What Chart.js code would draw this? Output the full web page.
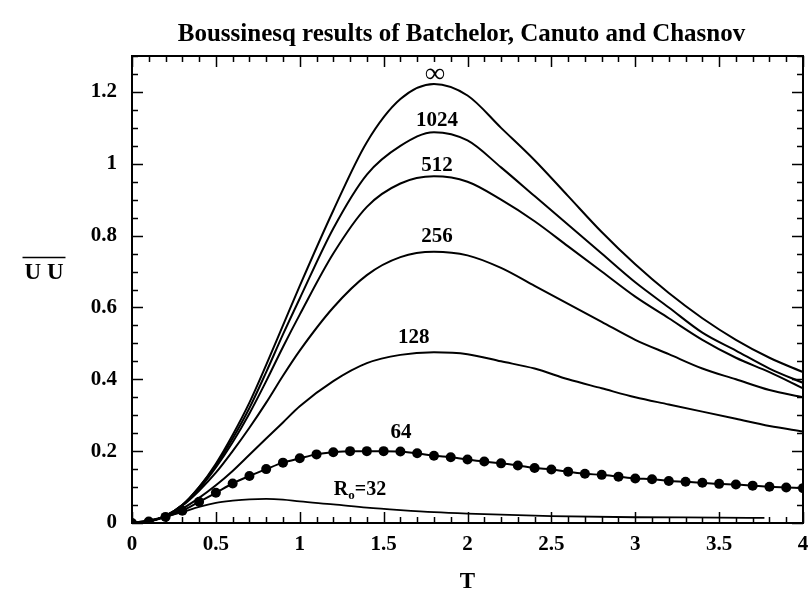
<!DOCTYPE html>
<html><head><meta charset="utf-8">
<script src="https://cdn.jsdelivr.net/npm/chart.js@4.4.0/dist/chart.umd.min.js"></script>
<style>html,body{margin:0;padding:0;background:#fff}</style>
</head><body>
<canvas id="c" width="808" height="599"></canvas>
<script>
const TITLE = 'Boussinesq results of Batchelor, Canuto and Chasnov';
const X_TITLE = 'T';
const Y_TITLE = 'U U';
const X_MAJOR = [0, 0.5, 1, 1.5, 2, 2.5, 3, 3.5, 4];
const Y_MAJOR = [0, 0.2, 0.4, 0.6, 0.8, 1, 1.2];

const T_CURVE = [0, 0.1, 0.2, 0.3, 0.4, 0.5, 0.6, 0.7, 0.8, 0.9, 1.0, 1.2, 1.4, 1.6, 1.8, 2.0, 2.2, 2.4, 2.6, 2.8, 3.0, 3.2, 3.4, 3.6, 3.8, 4.0];
const U_INF  = [0, 0.005, 0.02, 0.05, 0.1, 0.165, 0.245, 0.335, 0.44, 0.55, 0.66, 0.87, 1.06, 1.18, 1.222, 1.19, 1.10, 1.01, 0.91, 0.81, 0.72, 0.64, 0.57, 0.51, 0.46, 0.42];
const U_1024 = [0, 0.005, 0.02, 0.05, 0.1, 0.16, 0.235, 0.32, 0.42, 0.525, 0.625, 0.82, 0.97, 1.05, 1.088, 1.065, 0.99, 0.91, 0.83, 0.75, 0.67, 0.60, 0.53, 0.48, 0.43, 0.39];
const U_512  = [0, 0.005, 0.02, 0.05, 0.095, 0.155, 0.225, 0.305, 0.395, 0.49, 0.58, 0.75, 0.88, 0.945, 0.965, 0.95, 0.90, 0.84, 0.77, 0.70, 0.63, 0.57, 0.51, 0.46, 0.42, 0.375];
const U_256  = [0, 0.005, 0.02, 0.048, 0.09, 0.14, 0.2, 0.265, 0.335, 0.41, 0.48, 0.6, 0.69, 0.74, 0.755, 0.745, 0.71, 0.66, 0.61, 0.56, 0.51, 0.47, 0.43, 0.40, 0.37, 0.35];
const U_128  = [0, 0.005, 0.018, 0.04, 0.07, 0.105, 0.145, 0.19, 0.235, 0.28, 0.325, 0.395, 0.445, 0.468, 0.475, 0.47, 0.45, 0.43, 0.40, 0.375, 0.35, 0.33, 0.31, 0.29, 0.27, 0.255];

const T_64 = [0, 0.1, 0.2, 0.3, 0.4, 0.5, 0.6, 0.7, 0.8, 0.9, 1.0, 1.1, 1.2, 1.3, 1.4, 1.5, 1.6, 1.7, 1.8, 1.9, 2.0, 2.1, 2.2, 2.3, 2.4, 2.5, 2.6, 2.7, 2.8, 2.9, 3.0, 3.1, 3.2, 3.3, 3.4, 3.5, 3.6, 3.7, 3.8, 3.9, 4.0];
const U_64 = [0, 0.004, 0.017, 0.034, 0.059, 0.084, 0.11, 0.131, 0.15, 0.168, 0.18, 0.191, 0.197, 0.2, 0.2, 0.2, 0.199, 0.194, 0.187, 0.183, 0.177, 0.171, 0.166, 0.16, 0.153, 0.149, 0.143, 0.137, 0.134, 0.129, 0.124, 0.122, 0.117, 0.115, 0.112, 0.109, 0.107, 0.104, 0.101, 0.099, 0.097];

const T_32 = [0, 0.1, 0.2, 0.3, 0.4, 0.5, 0.6, 0.7, 0.8, 0.9, 1.0, 1.2, 1.4, 1.6, 1.8, 2.0, 2.5, 3.0, 3.5, 3.77];
const U_32 = [0, 0.008, 0.018, 0.03, 0.045, 0.056, 0.062, 0.066, 0.067, 0.065, 0.06, 0.052, 0.043, 0.036, 0.03, 0.026, 0.019, 0.016, 0.015, 0.014];

const CURVE_LABELS = ['\u221E', '1024', '512', '256', '128', '64', 'R|o|=32'];
const LABEL_T = [1.806, 1.818, 1.818, 1.818, 1.68, 1.603, 1.359];
const LABEL_U = [1.248, 1.119, 0.994, 0.796, 0.515, 0.251, 0.092];

function pts(t, u) { return t.map((x, i) => ({x: x, y: u[i]})); }
const SERIF = '"Liberation Serif", "Times New Roman", serif';

const line = (label, t, u) => ({
  label, data: pts(t, u), borderColor: '#000', borderWidth: 2, pointRadius: 0,
  cubicInterpolationMode: 'monotone', fill: false
});

const datasets = [
  line('\u221E', T_CURVE, U_INF),
  line('1024', T_CURVE, U_1024),
  line('512', T_CURVE, U_512),
  line('256', T_CURVE, U_256),
  line('128', T_CURVE, U_128),
  Object.assign(line('64', T_64, U_64), {pointRadius: 5, pointBackgroundColor: '#000', pointBorderColor: '#000', pointBorderWidth: 0}),
  Object.assign(line('32', T_32, U_32), {borderWidth: 1.8})
];

const near = (v, arr) => arr.some(a => Math.abs(a - v) < 1e-6);

const decor = {
  id: 'decor',
  afterDraw(chart) {
    const ctx = chart.ctx, a = chart.chartArea;
    const xs = chart.scales.x, ys = chart.scales.y;
    ctx.save();
    // title
    ctx.fillStyle = '#000';
    ctx.font = 'bold 25px ' + SERIF;
    ctx.textAlign = 'center';
    ctx.textBaseline = 'middle';
    ctx.fillText(TITLE, (a.left + a.right) / 2 - 6, 35);
    // frame
    ctx.strokeStyle = '#000';
    ctx.lineWidth = 2;
    ctx.strokeRect(a.left, a.top, a.right - a.left, a.bottom - a.top);
    ctx.lineWidth = 1.5;
    const MJ = 11, MN = 6;
    xs.ticks.forEach(tk => {
      const px = Math.round(xs.getPixelForValue(tk.value)) + 0.5;
      const L = near(tk.value, X_MAJOR) ? MJ : MN;
      ctx.beginPath();
      ctx.moveTo(px, a.bottom); ctx.lineTo(px, a.bottom - L);
      ctx.moveTo(px, a.top); ctx.lineTo(px, a.top + L);
      ctx.stroke();
    });
    ys.ticks.forEach(tk => {
      const py = Math.round(ys.getPixelForValue(tk.value)) + 0.5;
      const L = near(tk.value, Y_MAJOR) ? MJ : MN;
      ctx.beginPath();
      ctx.moveTo(a.left, py); ctx.lineTo(a.left + L, py);
      ctx.moveTo(a.right, py); ctx.lineTo(a.right - L, py);
      ctx.stroke();
    });
    // curve labels
    CURVE_LABELS.forEach((lab, i) => {
      const px = xs.getPixelForValue(LABEL_T[i]);
      const py = ys.getPixelForValue(LABEL_U[i]);
      if (lab.indexOf('|') >= 0) {
        const parts = lab.split('|');
        ctx.font = 'bold 20px ' + SERIF;
        const w0 = ctx.measureText(parts[0]).width;
        const w2 = ctx.measureText(parts[2]).width;
        ctx.font = 'bold 13px ' + SERIF;
        const w1 = ctx.measureText(parts[1]).width;
        let x = px - (w0 + w1 + w2) / 2;
        ctx.textAlign = 'left';
        ctx.font = 'bold 20px ' + SERIF;
        ctx.fillText(parts[0], x, py); x += w0;
        ctx.font = 'bold 13px ' + SERIF;
        ctx.fillText(parts[1], x, py + 6); x += w1;
        ctx.font = 'bold 20px ' + SERIF;
        ctx.fillText(parts[2], x, py);
      } else {
        ctx.textAlign = 'center';
        ctx.font = (lab === '\u221E' ? 'bold 28px ' : 'bold 21px ') + SERIF;
        ctx.fillText(lab, px, py);
      }
    });
    // y axis title with overline
    ctx.font = 'bold 23px ' + SERIF;
    ctx.textAlign = 'center';
    const yx = 44, yy = 273;
    ctx.fillText(Y_TITLE, yx, yy);
    const w = ctx.measureText(Y_TITLE).width;
    ctx.lineWidth = 1.5;
    ctx.beginPath();
    ctx.moveTo(yx - w / 2 - 2, yy - 15.5); ctx.lineTo(yx + w / 2 + 2, yy - 15.5);
    ctx.stroke();
    ctx.restore();
  }
};

new Chart(document.getElementById('c'), {
  type: 'line',
  data: { datasets },
  options: {
    responsive: false,
    animation: false,
    layout: { padding: { left: 0, right: 5, top: 56, bottom: 0 } },
    plugins: {
      legend: { display: false },
      tooltip: { enabled: false },
      title: { display: false }
    },
    scales: {
      x: {
        type: 'linear', min: 0, max: 4,
        grid: { display: false, drawTicks: false },
        border: { display: false },
        ticks: {
          stepSize: 0.1, autoSkip: false, maxRotation: 0, padding: 9, color: '#000',
          font: { family: SERIF, size: 21, weight: 'bold' },
          callback: v => near(v, X_MAJOR) ? String(Number(v.toFixed(1))) : ''
        },
        title: { display: true, text: X_TITLE, color: '#000', padding: { top: 0, bottom: 3 },
          font: { family: SERIF, size: 23, weight: 'bold' } },
        afterFit: s => { s.height = 76; s.paddingLeft = 0; s.paddingRight = 0; }
      },
      y: {
        type: 'linear', min: 0, max: 1.3,
        grid: { display: false, drawTicks: false },
        border: { display: false },
        ticks: {
          stepSize: 0.05, autoSkip: false, padding: 15, color: '#000',
          font: { family: SERIF, size: 21, weight: 'bold' },
          callback: v => near(v, Y_MAJOR) ? String(Number(v.toFixed(1))) : ''
        },
        afterFit: s => { s.width = 132; s.paddingTop = 0; s.paddingBottom = 0; }
      }
    }
  },
  plugins: [decor]
});
</script>
</body></html>
